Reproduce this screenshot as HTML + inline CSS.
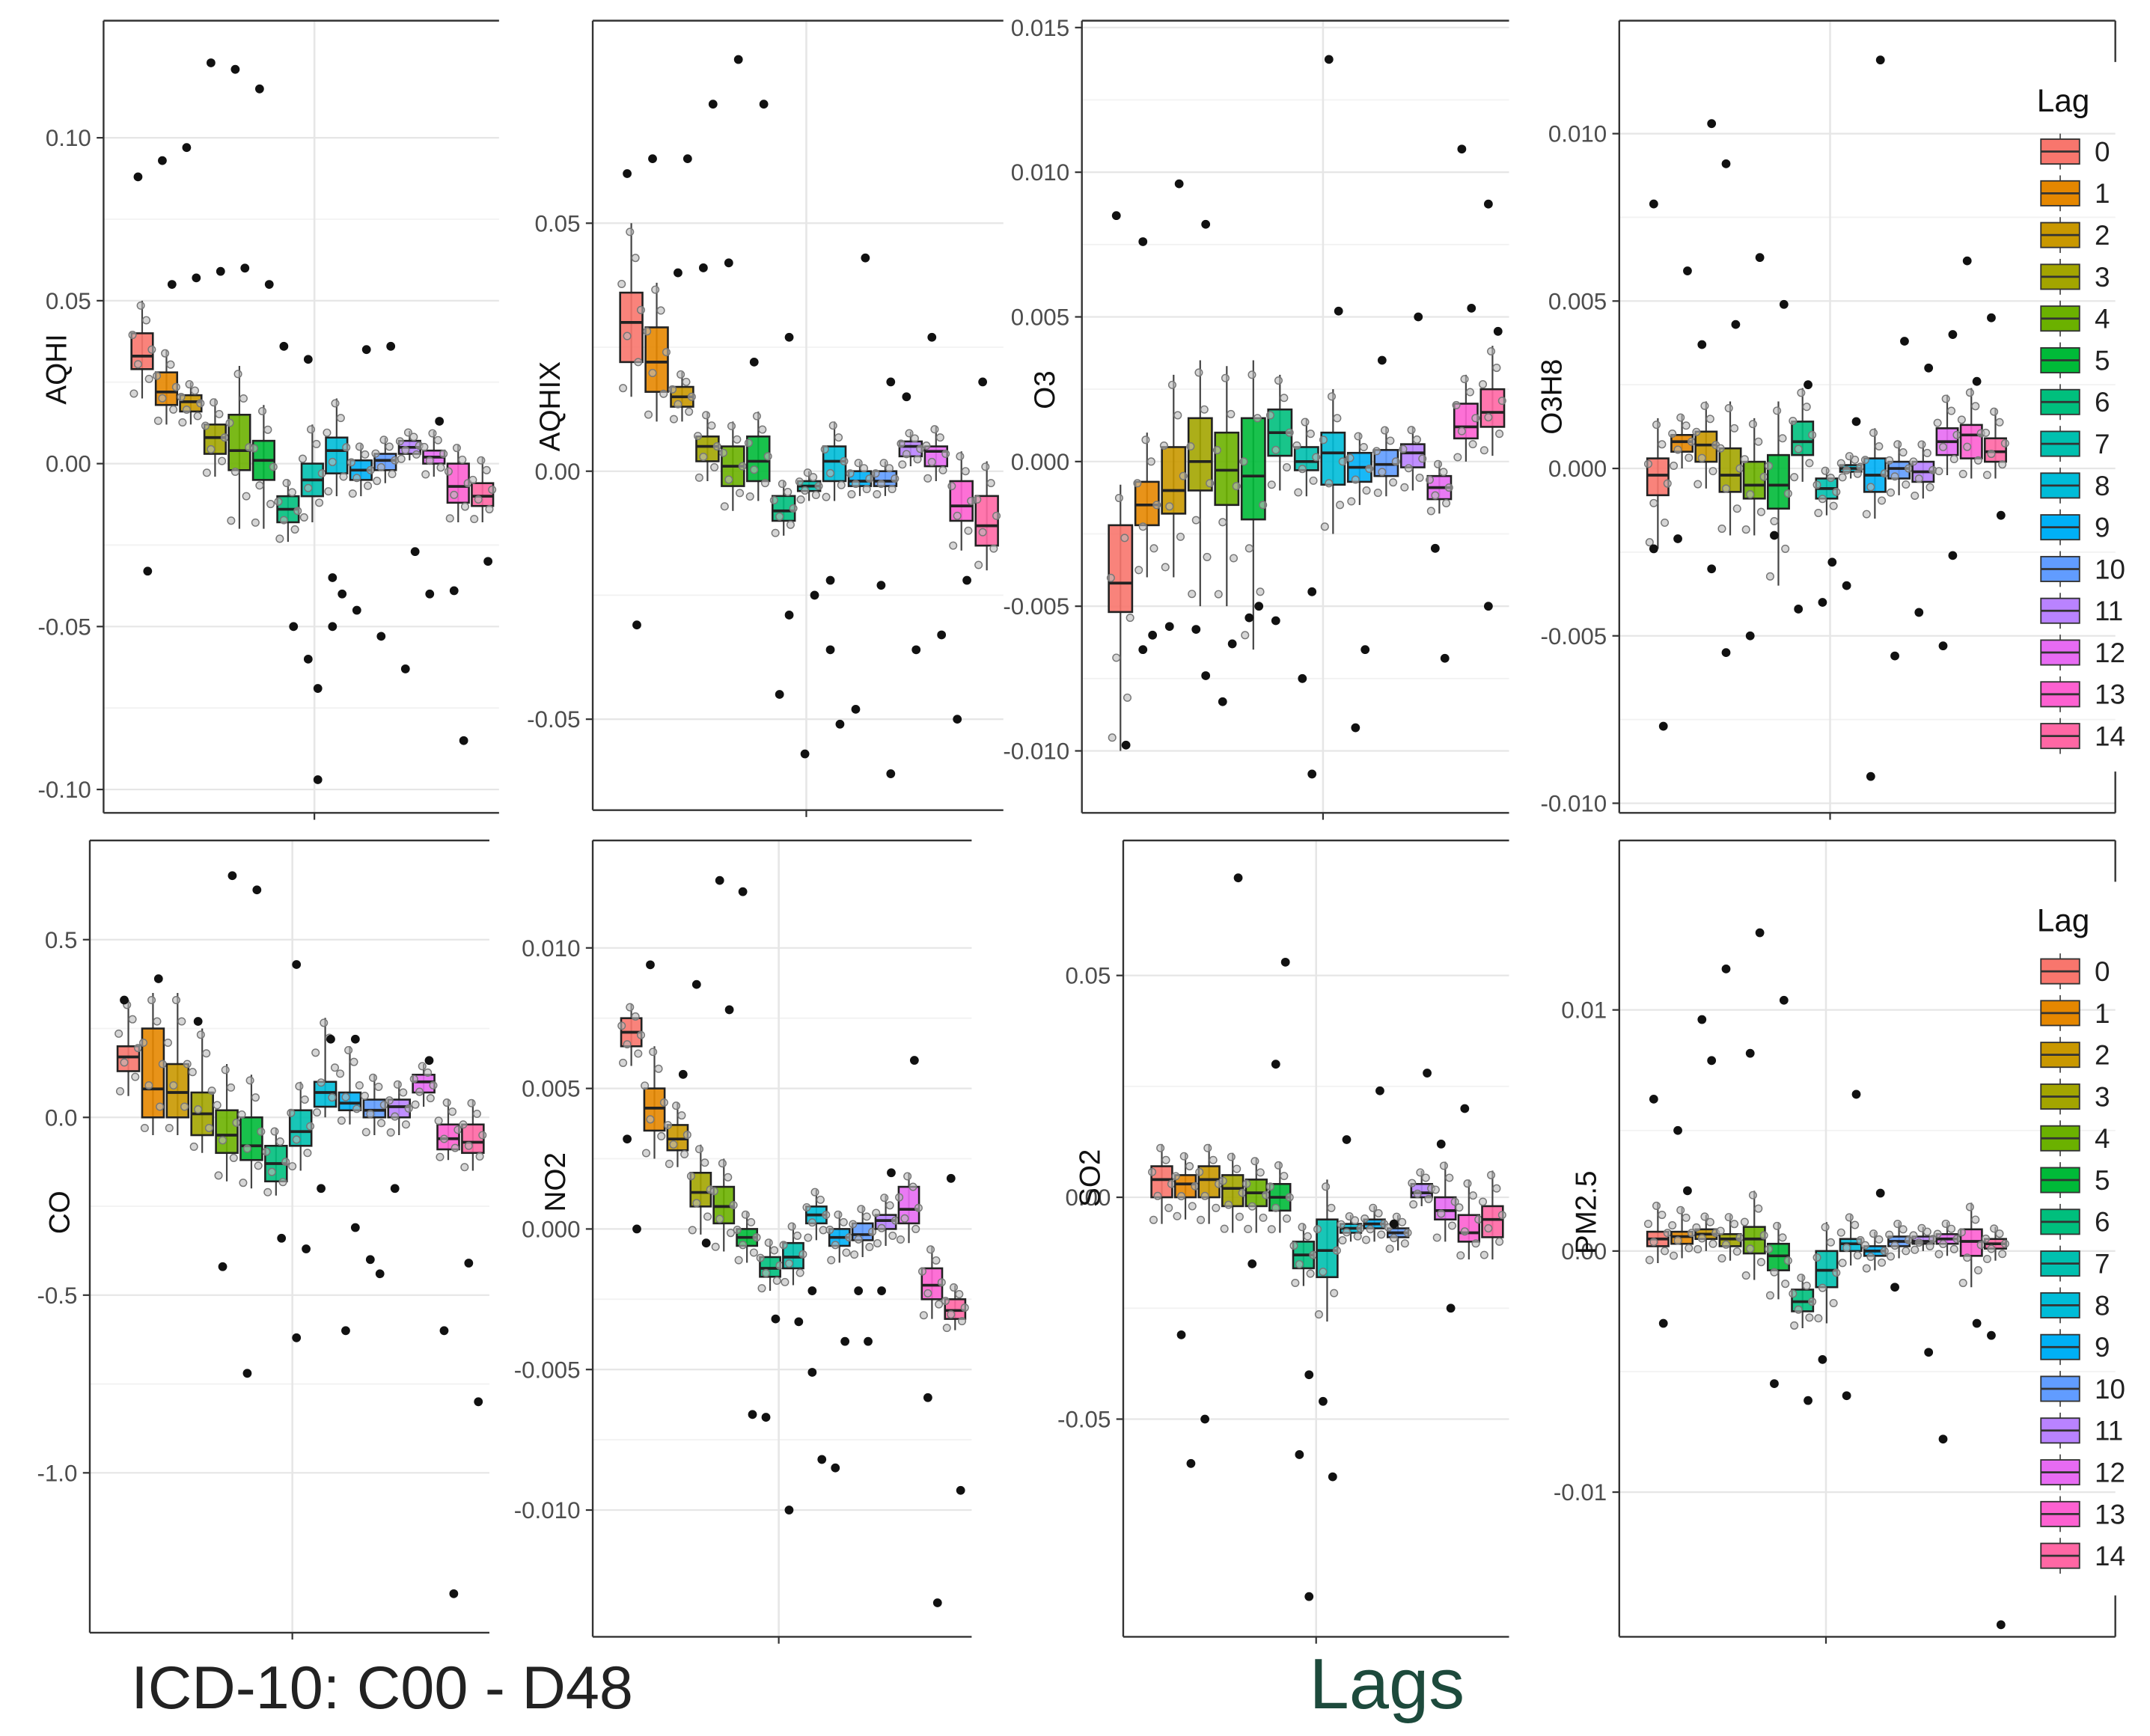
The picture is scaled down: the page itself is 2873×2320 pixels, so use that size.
<!DOCTYPE html>
<html><head><meta charset="utf-8"><style>
html,body{margin:0;padding:0;background:#fff;}
svg{display:block;font-family:"Liberation Sans",Arial,sans-serif;}
</style></head><body>
<svg id="fig" width="2873" height="2320" viewBox="0 0 1560 1260" xmlns="http://www.w3.org/2000/svg">
<rect x="0" y="0" width="1560" height="1260" fill="#fff"/>
<text x="95" y="1240" font-size="44" fill="#222">ICD-10: C00 - D48</text>
<text x="950" y="1240" font-size="52" fill="#1d4a3c">Lags</text>
</svg>
<script>
const lags = [0,1,2,3,4,5,6,7,8,9,10,11,12,13,14];
const colors = ["#F8766D","#E58700","#C99800","#A3A500","#6BB100","#00BA38","#00BF7D","#00C0AF","#00BCD8","#00B0F6","#619CFF","#B983FF","#E76BF3","#FD61D1","#FF67A4"];

// AQHI
const aqhiMed = [0.033,0.022,0.019,0.008,0.004,0.001,-0.014,-0.005,0.004,-0.002,0.001,0.005,0.002,-0.007,-0.010];
const aqhiQ1  = [0.029,0.018,0.016,0.003,-0.002,-0.005,-0.018,-0.010,-0.003,-0.005,-0.002,0.003,0.000,-0.012,-0.013];
const aqhiQ3  = [0.040,0.028,0.021,0.012,0.015,0.007,-0.010,0.000,0.008,0.001,0.003,0.007,0.004,0.000,-0.006];
const aqhiLo  = [0.020,0.012,0.012,-0.004,-0.020,-0.020,-0.024,-0.018,-0.010,-0.010,-0.006,0.001,-0.004,-0.018,-0.018];
const aqhiHi  = [0.050,0.035,0.025,0.020,0.030,0.018,-0.005,0.012,0.020,0.006,0.008,0.010,0.010,0.006,0.002];
const aqhiOutLag = [0,0,1,1,2,2,3,3,4,4,5,5,6,6,7,7,7,7,8,8,8,9,9,10,10,11,11,12,12,13,13,14];
const aqhiOutVal = [0.088,-0.033,0.093,0.055,0.097,0.057,0.123,0.059,0.121,0.060,0.115,0.055,0.036,-0.050,0.032,-0.069,-0.060,-0.097,-0.035,-0.040,-0.050,0.035,-0.045,0.036,-0.053,-0.027,-0.063,0.013,-0.040,-0.085,-0.039,-0.030];

// AQHIX
const aqhixMed = [0.030,0.022,0.015,0.005,0.001,0.002,-0.008,-0.003,0.002,-0.002,-0.002,0.005,0.004,-0.007,-0.011];
const aqhixQ1  = [0.022,0.016,0.013,0.002,-0.003,-0.002,-0.010,-0.004,-0.002,-0.003,-0.003,0.003,0.001,-0.010,-0.015];
const aqhixQ3  = [0.036,0.029,0.017,0.007,0.005,0.007,-0.005,-0.002,0.005,0.000,0.000,0.006,0.005,-0.002,-0.005];
const aqhixLo  = [0.015,0.010,0.010,-0.002,-0.008,-0.006,-0.013,-0.006,-0.006,-0.005,-0.005,0.001,-0.002,-0.016,-0.020];
const aqhixHi  = [0.050,0.038,0.020,0.012,0.010,0.012,-0.002,0.000,0.010,0.002,0.002,0.008,0.009,0.004,0.002];
const aqhixOutLag = [0,0,1,2,2,3,3,4,4,5,5,6,6,6,7,7,8,8,8,9,9,10,10,10,11,11,12,12,13,13,14];
const aqhixOutVal = [0.060,-0.031,0.063,0.063,0.040,0.074,0.041,0.083,0.042,0.074,0.022,0.027,-0.045,-0.029,-0.057,-0.025,-0.036,-0.051,-0.022,0.043,-0.048,0.018,-0.023,-0.061,0.015,-0.036,0.027,-0.033,-0.050,-0.022,0.018];

// O3
const o3Med = [-0.0042,-0.0015,-0.0010,0.0000,-0.0003,-0.0005,0.0010,0.0000,0.0003,-0.0002,-0.0001,0.0003,-0.0009,0.0012,0.0017];
const o3Q1  = [-0.0052,-0.0022,-0.0018,-0.0010,-0.0015,-0.0020,0.0002,-0.0003,-0.0008,-0.0007,-0.0005,-0.0002,-0.0013,0.0008,0.0012];
const o3Q3  = [-0.0022,-0.0007,0.0005,0.0015,0.0010,0.0015,0.0018,0.0005,0.0010,0.0003,0.0004,0.0006,-0.0005,0.0020,0.0025];
const o3Lo  = [-0.0100,-0.0040,-0.0040,-0.0050,-0.0050,-0.0065,-0.0010,-0.0012,-0.0025,-0.0015,-0.0012,-0.0010,-0.0018,0.0000,0.0002];
const o3Hi  = [-0.0008,0.0010,0.0030,0.0035,0.0033,0.0035,0.0030,0.0015,0.0025,0.0010,0.0012,0.0012,0.0000,0.0030,0.0040];
const o3OutLag = [0,0,1,1,1,2,2,3,3,3,4,4,5,5,6,7,7,7,8,8,9,9,10,11,12,12,13,13,14,14,14];
const o3OutVal = [0.0085,-0.0098,0.0076,-0.0060,-0.0065,0.0096,-0.0057,0.0082,-0.0058,-0.0074,-0.0083,-0.0063,-0.0054,-0.0050,-0.0055,-0.0108,-0.0075,-0.0045,0.0139,0.0052,-0.0092,-0.0065,0.0035,0.0050,-0.0030,-0.0068,0.0108,0.0053,0.0089,0.0045,-0.0050];

// O3H8
const o3h8Med = [-0.0002,0.0008,0.0007,-0.0002,-0.0005,-0.0005,0.0008,-0.0006,0.0000,-0.0002,0.0000,-0.0001,0.0008,0.0010,0.0005];
const o3h8Q1  = [-0.0008,0.0005,0.0002,-0.0007,-0.0009,-0.0012,0.0004,-0.0009,-0.0001,-0.0007,-0.0003,-0.0004,0.0004,0.0003,0.0002];
const o3h8Q3  = [0.0003,0.0010,0.0011,0.0006,0.0002,0.0004,0.0014,-0.0003,0.0001,0.0003,0.0002,0.0002,0.0012,0.0013,0.0009];
const o3h8Lo  = [-0.0024,0.0000,-0.0006,-0.0020,-0.0020,-0.0035,-0.0004,-0.0014,-0.0003,-0.0015,-0.0008,-0.0009,-0.0002,-0.0003,-0.0003];
const o3h8Hi  = [0.0015,0.0016,0.0020,0.0020,0.0015,0.0020,0.0024,0.0000,0.0004,0.0012,0.0008,0.0008,0.0022,0.0024,0.0018];
const o3h8OutLag = [0,0,0,1,1,2,2,2,3,3,3,4,4,5,5,6,6,7,7,8,8,9,9,10,10,11,11,12,12,12,13,13,14,14];
const o3h8OutVal = [0.0079,-0.0077,-0.0024,0.0059,-0.0021,0.0103,0.0037,-0.0030,0.0091,0.0043,-0.0055,0.0063,-0.0050,0.0049,-0.0020,0.0025,-0.0042,-0.0028,-0.0040,0.0014,-0.0035,0.0122,-0.0092,0.0038,-0.0056,0.0030,-0.0043,0.0040,-0.0053,-0.0026,0.0062,0.0026,0.0045,-0.0014];

// CO
const coMed = [0.17,0.08,0.07,0.01,-0.05,-0.08,-0.13,-0.04,0.07,0.04,0.02,0.03,0.10,-0.06,-0.07];
const coQ1  = [0.13,0.00,0.00,-0.05,-0.10,-0.12,-0.18,-0.08,0.03,0.02,0.00,0.00,0.07,-0.09,-0.10];
const coQ3  = [0.20,0.25,0.15,0.07,0.02,0.00,-0.08,0.02,0.10,0.07,0.05,0.05,0.12,-0.02,-0.02];
const coLo  = [0.06,-0.05,-0.05,-0.10,-0.18,-0.20,-0.22,-0.15,0.00,-0.02,-0.05,-0.05,0.03,-0.12,-0.15];
const coHi  = [0.33,0.35,0.35,0.25,0.15,0.12,-0.03,0.10,0.28,0.20,0.12,0.10,0.15,0.05,0.05];
const coOutLag = [0,1,3,4,4,5,5,6,7,7,7,8,8,9,9,9,10,10,11,12,13,13,14,14];
const coOutVal = [0.33,0.39,0.27,0.68,-0.42,0.64,-0.72,-0.34,0.43,-0.37,-0.62,0.22,-0.20,0.22,-0.60,-0.31,-0.40,-0.44,-0.20,0.16,-0.60,-1.34,-0.41,-0.80];

// NO2
const no2Med = [0.0070,0.0043,0.0032,0.0013,0.0008,-0.0003,-0.0014,-0.0010,0.0005,-0.0003,-0.0002,0.0003,0.0007,-0.0020,-0.0029];
const no2Q1  = [0.0065,0.0035,0.0028,0.0008,0.0002,-0.0006,-0.0017,-0.0014,0.0002,-0.0006,-0.0004,0.0000,0.0002,-0.0025,-0.0032];
const no2Q3  = [0.0075,0.0050,0.0037,0.0020,0.0015,0.0000,-0.0010,-0.0005,0.0008,0.0000,0.0002,0.0005,0.0015,-0.0014,-0.0025];
const no2Lo  = [0.0058,0.0025,0.0022,-0.0002,-0.0008,-0.0012,-0.0022,-0.0020,-0.0004,-0.0012,-0.0010,-0.0006,-0.0005,-0.0032,-0.0036];
const no2Hi  = [0.0080,0.0065,0.0045,0.0030,0.0025,0.0006,-0.0004,0.0002,0.0014,0.0006,0.0008,0.0012,0.0020,-0.0006,-0.0020];
const no2OutLag = [0,0,1,2,3,3,4,4,5,5,6,6,7,7,8,8,8,9,9,10,10,11,11,12,13,13,14,14];
const no2OutVal = [0.0032,0.0000,0.0094,0.0055,0.0087,-0.0005,0.0124,0.0078,0.0120,-0.0066,-0.0067,-0.0032,-0.0100,-0.0033,-0.0051,-0.0082,-0.0022,-0.0040,-0.0085,-0.0040,-0.0022,0.0020,-0.0022,0.0060,-0.0060,-0.0133,0.0018,-0.0093];

// SO2
const so2Med = [0.004,0.003,0.004,0.002,0.001,0.000,-0.013,-0.012,-0.007,-0.006,-0.008,0.001,-0.003,-0.008,-0.005];
const so2Q1  = [0.000,0.000,0.000,-0.002,-0.002,-0.003,-0.016,-0.018,-0.008,-0.007,-0.009,0.000,-0.005,-0.010,-0.009];
const so2Q3  = [0.007,0.005,0.007,0.005,0.004,0.003,-0.010,-0.005,-0.006,-0.005,-0.007,0.003,0.000,-0.004,-0.002];
const so2Lo  = [-0.006,-0.005,-0.006,-0.008,-0.008,-0.008,-0.020,-0.028,-0.010,-0.010,-0.012,-0.002,-0.010,-0.014,-0.014];
const so2Hi  = [0.012,0.010,0.012,0.010,0.009,0.008,-0.006,0.004,-0.004,-0.002,-0.004,0.006,0.008,0.004,0.006];
const so2OutLag = [1,1,2,3,4,5,5,6,6,6,7,7,8,9,10,11,12,12,13];
const so2OutVal = [-0.031,-0.060,-0.050,0.072,-0.015,0.053,0.030,-0.040,-0.058,-0.090,-0.046,-0.063,0.013,0.024,-0.006,0.028,0.012,-0.025,0.020];

// PM2.5
const pmMed = [0.0005,0.0006,0.0007,0.0005,0.0005,-0.0002,-0.0021,-0.0008,0.0003,0.0000,0.0004,0.0004,0.0005,0.0004,0.0003];
const pmQ1  = [0.0002,0.0003,0.0005,0.0002,-0.0001,-0.0008,-0.0025,-0.0015,0.0000,-0.0002,0.0002,0.0003,0.0003,-0.0002,0.0001];
const pmQ3  = [0.0008,0.0008,0.0009,0.0007,0.0010,0.0003,-0.0016,0.0000,0.0005,0.0002,0.0006,0.0006,0.0007,0.0009,0.0005];
const pmLo  = [-0.0005,-0.0003,0.0000,-0.0004,-0.0012,-0.0020,-0.0032,-0.0030,-0.0006,-0.0008,-0.0003,0.0000,-0.0002,-0.0015,-0.0004];
const pmHi  = [0.0020,0.0018,0.0015,0.0015,0.0025,0.0012,-0.0010,0.0012,0.0015,0.0008,0.0012,0.0010,0.0012,0.0020,0.0010];
const pmOutLag = [0,0,1,1,2,2,3,4,4,5,5,6,7,8,8,9,10,11,12,13,14,14];
const pmOutVal = [0.0063,-0.0030,0.0050,0.0025,0.0096,0.0079,0.0117,0.0132,0.0082,0.0104,-0.0055,-0.0062,-0.0045,0.0065,-0.0060,0.0024,-0.0015,-0.0042,-0.0078,-0.0030,-0.0035,-0.0155];

const panels = [
 {name:"AQHI", x0:75,x1:362,y0:15,y1:590, ticks:[0.10,0.05,0.00,-0.05,-0.10], labels:["0.10","0.05","0.00","-0.05","-0.10"], tA:[0.10,100],tB:[-0.10,573], gx:228, lx:40, ly:268, med:aqhiMed,q1:aqhiQ1,q3:aqhiQ3,lo:aqhiLo,hi:aqhiHi,oL:aqhiOutLag,oV:aqhiOutVal},
 {name:"AQHIX", x0:430,x1:728,y0:15,y1:588, ticks:[0.05,0.00,-0.05], labels:["0.05","0.00","-0.05"], tA:[0.05,162],tB:[-0.05,522], gx:585, lx:398, ly:295, med:aqhixMed,q1:aqhixQ1,q3:aqhixQ3,lo:aqhixLo,hi:aqhixHi,oL:aqhixOutLag,oV:aqhixOutVal},
 {name:"O3", x0:785,x1:1095,y0:15,y1:590, ticks:[0.015,0.010,0.005,0.000,-0.005,-0.010], labels:["0.015","0.010","0.005","0.000","-0.005","-0.010"], tA:[0.015,20],tB:[-0.010,545], gx:960, lx:757, ly:283, med:o3Med,q1:o3Q1,q3:o3Q3,lo:o3Lo,hi:o3Hi,oL:o3OutLag,oV:o3OutVal},
 {name:"O3H8", x0:1175,x1:1535,y0:15,y1:590, ticks:[0.010,0.005,0.000,-0.005,-0.010], labels:["0.010","0.005","0.000","-0.005","-0.010"], tA:[0.010,97],tB:[-0.010,583], gx:1328, lx:1125, ly:288, med:o3h8Med,q1:o3h8Q1,q3:o3h8Q3,lo:o3h8Lo,hi:o3h8Hi,oL:o3h8OutLag,oV:o3h8OutVal, legend:true, plotRight:1460},
 {name:"CO", x0:65,x1:355,y0:610,y1:1185, ticks:[0.5,0.0,-0.5,-1.0], labels:["0.5","0.0","-0.5","-1.0"], tA:[0.5,682],tB:[-1.0,1069], gx:212, lx:42, ly:880, med:coMed,q1:coQ1,q3:coQ3,lo:coLo,hi:coHi,oL:coOutLag,oV:coOutVal},
 {name:"NO2", x0:430,x1:705,y0:610,y1:1188, ticks:[0.010,0.005,0.000,-0.005,-0.010], labels:["0.010","0.005","0.000","-0.005","-0.010"], tA:[0.010,688],tB:[-0.010,1096], gx:565, lx:402, ly:858, med:no2Med,q1:no2Q1,q3:no2Q3,lo:no2Lo,hi:no2Hi,oL:no2OutLag,oV:no2OutVal},
 {name:"SO2", x0:815,x1:1095,y0:610,y1:1188, ticks:[0.05,0.00,-0.05], labels:["0.05","0.00","-0.05"], tA:[0.05,708],tB:[-0.05,1030], gx:955, lx:790, ly:855, med:so2Med,q1:so2Q1,q3:so2Q3,lo:so2Lo,hi:so2Hi,oL:so2OutLag,oV:so2OutVal},
 {name:"PM2.5", x0:1175,x1:1535,y0:610,y1:1188, ticks:[0.01,0.00,-0.01], labels:["0.01","0.00","-0.01"], tA:[0.01,733],tB:[-0.01,1083], gx:1325, lx:1150, ly:880, med:pmMed,q1:pmQ1,q3:pmQ3,lo:pmLo,hi:pmHi,oL:pmOutLag,oV:pmOutVal, legend:true, plotRight:1460}
];

const NS="http://www.w3.org/2000/svg";
const svg=document.getElementById('fig');
function mk(tag,attrs,parent){const e=document.createElementNS(NS,tag);for(const k in attrs)e.setAttribute(k,attrs[k]);(parent||svg).appendChild(e);return e;}
const jfrac=[0.05,0.2,0.35,0.5,0.65,0.8,0.95];
const joff=[-6,5,-3,7,-7,3,-1];

panels.forEach((p,pi)=>{
  const g=mk('g',{});
  
  
  const yScale=v=>p.tA[1]+(v-p.tA[0])*(p.tB[1]-p.tA[1])/(p.tB[0]-p.tA[0]);
  const right=p.plotRight||p.x1;
  const n=lags.length;
  const first=p.x0+28, last=right-12;
  const step=(last-first)/(n-1);
  const xScale=i=>first+i*step;
  const bw=step*0.88;
  for(let i=0;i<p.ticks.length-1;i++){
    const ym=yScale((p.ticks[i]+p.ticks[i+1])/2);
    const l=mk('line',{x1:p.x0,x2:p.x1,y1:ym,y2:ym,stroke:'#f2f2f2','stroke-width':1},g);
    
    
  }
  p.ticks.forEach((t,i)=>{
    const y=yScale(t);
    const l=mk('line',{x1:p.x0,x2:p.x1,y1:y,y2:y,stroke:'#e6e6e6','stroke-width':1.2},g);
    
    
    mk('line',{x1:p.x0-5,x2:p.x0,y1:y,y2:y,stroke:'#333','stroke-width':1.2},g);
    const tx=mk('text',{x:p.x0-9,y:y+6,'font-size':17,fill:'#4d4d4d','text-anchor':'end'},g);
    tx.textContent=p.labels[i];
    
    
  });
  const vg=mk('line',{x1:p.gx,x2:p.gx,y1:p.y0,y2:p.y1,stroke:'#e6e6e6','stroke-width':1.4},g);
  
  
  mk('line',{x1:p.x0,x2:p.x0,y1:p.y0,y2:p.y1,stroke:'#333','stroke-width':1.3},g);
  mk('line',{x1:p.x0,x2:p.x1,y1:p.y0,y2:p.y0,stroke:'#333','stroke-width':1.3},g);
  mk('line',{x1:p.x0,x2:p.x1,y1:p.y1,y2:p.y1,stroke:'#333','stroke-width':1.3},g);
  mk('line',{x1:p.gx,x2:p.gx,y1:p.y1,y2:p.y1+5,stroke:'#333','stroke-width':1.2},g);
  if(p.legend){
    mk('line',{x1:p.x1,x2:p.x1,y1:p.y0,y2:p.y0+30,stroke:'#333','stroke-width':1.3},g);
    mk('line',{x1:p.x1,x2:p.x1,y1:p.y1-30,y2:p.y1,stroke:'#333','stroke-width':1.3},g);
  }
  const yl=mk('text',{x:0,y:0,'font-size':21,fill:'#111','text-anchor':'middle',transform:`translate(${p.lx+8},${p.ly}) rotate(-90)`},g);
  yl.textContent=p.name;
  
  
  lags.forEach((lag,i)=>{
    const cx=xScale(i);
    const bg=mk('g',{},g);
    
    
    mk('line',{x1:cx,x2:cx,y1:yScale(p.hi[i]),y2:yScale(p.lo[i]),stroke:'#444','stroke-width':1.2},bg);
    const yt=yScale(p.q3[i]), yb=yScale(p.q1[i]);
    mk('rect',{x:cx-bw/2,y:Math.min(yt,yb),width:bw,height:Math.max(2,Math.abs(yb-yt)),fill:colors[i],'fill-opacity':0.9,stroke:'#222','stroke-width':1.4},bg);
    mk('line',{x1:cx-bw/2,x2:cx+bw/2,y1:yScale(p.med[i]),y2:yScale(p.med[i]),stroke:'#222','stroke-width':2},bg);
    jfrac.forEach((f,k)=>{
      const v=p.lo[i]+(p.hi[i]-p.lo[i])*f;
      mk('circle',{cx:cx+joff[k],cy:yScale(v),r:2.6,fill:'#bbb','fill-opacity':0.6,stroke:'#777','stroke-width':0.8},bg);
    });
  });
  p.oL.forEach((lag,k)=>{
    const c=mk('circle',{cx:xScale(lag)+(k%2?4:-3),cy:yScale(p.oV[k]),r:3.2,fill:'#111'},g);
    
    
  });
  if(p.legend){
    const lg=mk('g',{},g);
    
    
    const tt=mk('text',{x:1478,y:p.y0+66,'font-size':23,fill:'#111'},lg);
    tt.textContent='Lag';
    
    
    lags.forEach((lag,i)=>{
      const y=p.y0+95+i*30.3;
      const e=mk('g',{},lg);
      
      
      mk('line',{x1:1495,x2:1495,y1:y-13,y2:y+13,stroke:'#555','stroke-width':1},e);
      mk('rect',{x:1481,y:y-9,width:28,height:18,fill:colors[i],stroke:'#333','stroke-width':1},e);
      mk('line',{x1:1481,x2:1509,y1:y,y2:y,stroke:'#333','stroke-width':1.5},e);
      const lt=mk('text',{x:1520,y:y+7,'font-size':20,fill:'#222'},e);
      lt.textContent=String(lag);
    });
  }
});
</script>
</body></html>
